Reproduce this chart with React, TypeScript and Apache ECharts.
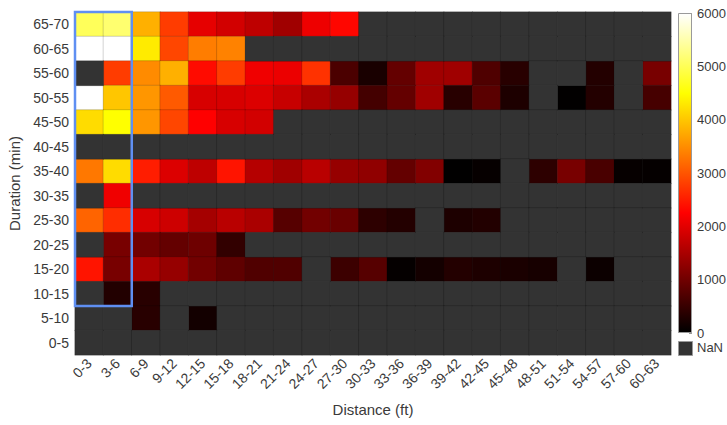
import React, { useEffect, useRef } from 'react';
import * as echarts from 'echarts';

const xCategories = ['0-3', '3-6', '6-9', '9-12', '12-15', '15-18', '18-21', '21-24', '24-27', '27-30', '30-33', '33-36', '36-39', '39-42', '42-45', '45-48', '48-51', '51-54', '54-57', '57-60', '60-63'];
const yCategories = ['0-5', '5-10', '10-15', '15-20', '20-25', '25-30', '30-35', '35-40', '40-45', '45-50', '50-55', '55-60', '60-65', '65-70'];

const N = null;
// rows listed from top (65-70) to bottom (0-5); null = NaN
const row65_70 = [5030, 5150, 3800, 2780, 2030, 1850, 1680, 1410, 2100, 2300, N, N, N, N, N, N, N, N, N, N, N];
const row60_65 = [6000, 6000, 4320, 2870, 3350, 3400, N, N, N, N, N, N, N, N, N, N, N, N, N, N, N];
const row55_60 = [N, 2780, 3480, 3800, 2350, 2780, 2120, 2080, 2690, 660, 220, 880, 1410, 1410, 700, 350, N, N, 310, N, 1060];
const row50_55 = [6000, 4000, 3570, 3040, 1900, 1900, 1940, 1760, 1500, 1320, 600, 880, 1410, 350, 790, 260, N, 20, 310, N, 620];
const row45_50 = [4190, 4500, 3570, 2870, 2250, 1900, 1850, N, N, N, N, N, N, N, N, N, N, N, N, N, N];
const row40_45 = [N, N, N, N, N, N, N, N, N, N, N, N, N, N, N, N, N, N, N, N, N];
const row35_40 = [3310, 4190, 2510, 1940, 1680, 2430, 1600, 1410, 1630, 1320, 1270, 880, 1150, 10, 50, N, 400, 1060, 640, 50, 40];
const row30_35 = [N, 2120, N, N, N, N, N, N, N, N, N, N, N, N, N, N, N, N, N, N, N];
const row25_30 = [3130, 2650, 1900, 1810, 1460, 1630, 1500, 760, 1010, 930, 400, 310, N, 260, 300, N, N, N, N, N, N];
const row20_25 = [N, 1060, 1010, 880, 970, 440, N, N, N, N, N, N, N, N, N, N, N, N, N, N, N];
const row15_20 = [2430, 1060, 1500, 1320, 1010, 840, 710, 710, N, 530, 760, 40, 180, 310, 260, 230, 200, N, 110, N, N];
const row10_15 = [N, 300, 350, N, N, N, N, N, N, N, N, N, N, N, N, N, N, N, N, N, N];
const row5_10 = [N, N, 350, N, 170, N, N, N, N, N, N, N, N, N, N, N, N, N, N, N, N];
const row0_5 = [N, N, N, N, N, N, N, N, N, N, N, N, N, N, N, N, N, N, N, N, N];

const rowsTopToBottom = [row65_70, row60_65, row55_60, row50_55, row45_50, row40_45, row35_40, row30_35, row25_30, row20_25, row15_20, row10_15, row5_10, row0_5];

const colorMin = 0;
const colorMax = 6000;
const colorStep = 1000;
const hotColors = ['#000000', '#550000', '#aa0000', '#ff0000', '#ff5500', '#ffaa00', '#ffff00', '#ffff80', '#ffffff'];
const nanColor = '#333333';
// highlight box: [xStartIdx, yStartIdx, xEndIdx, yEndIdx]
const highlightBox = [[0, 2, 1, 13]];

const FONT = '"Liberation Sans", Arial, Helvetica, sans-serif';
const TEXT = '#3a3a3a';

export default function App() {
  const ref = useRef<HTMLDivElement>(null);
  useEffect(() => {
    if (!ref.current) return;
    const chart = echarts.init(ref.current, null, { renderer: 'svg' });
    const valueData: any[] = [];
    const nanData: any[] = [];
    rowsTopToBottom.forEach((row, r) => {
      const yi = yCategories.length - 1 - r;
      row.forEach((v, xi) => {
        if (v === null) nanData.push([xi, yi, 0]);
        else valueData.push([xi, yi, v]);
      });
    });
    const gradStops = hotColors.map((c, i) => ({ offset: i / (hotColors.length - 1), color: c }));
    chart.setOption({
      animation: false,
      textStyle: { fontFamily: FONT },
      grid: [
        { left: 75, top: 12, width: 596, height: 343, containLabel: false, outerBoundsMode: 'none' },
        { left: 678, top: 13, width: 14, height: 320, containLabel: false, outerBoundsMode: 'none' },
      ],
      xAxis: [
        {
          type: 'category', gridIndex: 0, data: xCategories,
          axisLine: { show: false }, axisTick: { show: false }, splitLine: { show: false },
          axisLabel: { rotate: 45, color: TEXT, fontSize: 14, margin: 6, interval: 0, fontFamily: FONT },
          name: 'Distance (ft)', nameLocation: 'middle', nameGap: 47,
          nameTextStyle: { color: TEXT, fontSize: 15, fontFamily: FONT },
        },
        {
          type: 'category', gridIndex: 1, data: ['c'], show: false,
        },
      ],
      yAxis: [
        {
          type: 'category', gridIndex: 0, data: yCategories,
          axisLine: { show: false }, axisTick: { show: false }, splitLine: { show: false },
          axisLabel: { color: TEXT, fontSize: 14, margin: 6, fontFamily: FONT },
          name: 'Duration (min)', nameLocation: 'middle', nameGap: 44, nameRotate: 90,
          nameTextStyle: { color: TEXT, fontSize: 15, fontFamily: FONT },
        },
        {
          type: 'value', gridIndex: 1, min: colorMin, max: colorMax, interval: colorStep, position: 'right',
          axisLine: { show: false }, splitLine: { show: false },
          axisTick: { show: true, inside: true, length: 3, lineStyle: { color: '#999' } },
          axisLabel: { color: TEXT, fontSize: 13, margin: 5, fontFamily: FONT, formatter: (v: number) => String(v) },
        },
      ],
      visualMap: [
        {
          type: 'continuous', show: false, seriesIndex: 0, dimension: 2,
          min: colorMin, max: colorMax,
          inRange: { color: hotColors },
        },
        {
          type: 'continuous', show: false, seriesIndex: 1, dimension: 2,
          min: 0, max: 1,
          inRange: { color: [nanColor, nanColor] },
        },
      ],
      series: [
        {
          type: 'heatmap', xAxisIndex: 0, yAxisIndex: 0, data: valueData,
          itemStyle: { borderColor: 'rgba(0,0,0,0.16)', borderWidth: 1 },
          emphasis: { disabled: true },
        },
        {
          type: 'heatmap', xAxisIndex: 0, yAxisIndex: 0, data: nanData,
          itemStyle: { borderColor: 'rgba(0,0,0,0.16)', borderWidth: 1 },
          emphasis: { disabled: true },
        },
        {
          type: 'custom', xAxisIndex: 0, yAxisIndex: 0, z: 5,
          dimensions: ['x0', 'y0', 'x1', 'y1'],
          encode: { x: [0, 2], y: [1, 3] },
          data: highlightBox,
          renderItem: (_p: any, api: any) => {
            const x0 = api.value(0), y0 = api.value(1), x1 = api.value(2), y1 = api.value(3);
            const a = api.coord([x0, y1]);
            const b = api.coord([x1, y0]);
            const s = api.size([1, 1]);
            return {
              type: 'rect',
              shape: { x: a[0] - s[0] / 2, y: a[1] - s[1] / 2, width: b[0] - a[0] + s[0], height: b[1] - a[1] + s[1] },
              style: { fill: 'none', stroke: '#5f8ff2', lineWidth: 2.5 },
            };
          },
        },
        {
          type: 'bar', xAxisIndex: 1, yAxisIndex: 1, data: [colorMax], barWidth: '100%',
          itemStyle: {
            color: new echarts.graphic.LinearGradient(0, 1, 0, 0, gradStops),
            borderColor: '#9a9a9a', borderWidth: 1,
          },
          emphasis: { disabled: true },
        },
      ],
      graphic: [
        { type: 'rect', left: 678, top: 341, shape: { width: 14, height: 14 }, style: { fill: nanColor, stroke: '#999', lineWidth: 1 } },
        { type: 'text', left: 697, top: 341, style: { text: 'NaN', fill: TEXT, fontSize: 13, fontFamily: FONT } },
      ],
    });
    return () => chart.dispose();
  }, []);
  return <div ref={ref} style={{ width: 727, height: 425, position: 'absolute', left: 0, top: 0 }} />;
}
